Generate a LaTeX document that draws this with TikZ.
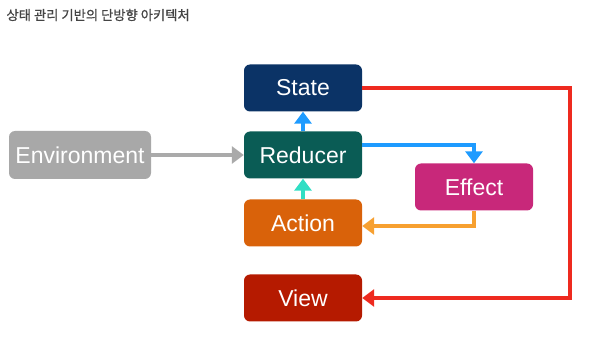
\documentclass[tikz,border=0pt]{standalone}
\usepackage{fontspec}
\setmainfont{Liberation Sans}
\newfontfamily\cjk{Noto Sans CJK KR}[FakeBold=0.8]
\usetikzlibrary{arrows.meta,positioning,calc}
\definecolor{cState}{HTML}{0B3366}
\definecolor{cReducer}{HTML}{0A5C55}
\definecolor{cAction}{HTML}{D9620A}
\definecolor{cView}{HTML}{B51A00}
\definecolor{cEffect}{HTML}{C8287A}
\definecolor{cEnv}{HTML}{A8A8A8}
\definecolor{aBlue}{HTML}{1E9BFF}
\definecolor{aRed}{HTML}{EE2A1F}
\definecolor{aOrange}{HTML}{F7A030}
\definecolor{aTeal}{HTML}{30DEC4}
\definecolor{aGray}{HTML}{AAAAAA}
\definecolor{title}{HTML}{444444}
\tikzset{
  box/.style={rounded corners=6pt, minimum width=118pt, minimum height=47pt,
    inner sep=0pt, text=white, font=\fontsize{23}{26}\selectfont,
    fill=#1},
  conn/.style={line width=3.2pt, -{Triangle[length=12pt,width=17pt]}},
}
\begin{document}
\begin{tikzpicture}[x=1pt,y=-1pt]
\useasboundingbox (0,0) rectangle (595,358);
\node[anchor=west, text=title, font=\cjk\fontsize{13.3}{15}\selectfont] (ttl) at (3,15) {상태 관리 기반의 단방향 아키텍처};
\node[box=cState] (state) at (303,88) {State};
\node[box=cReducer] (reducer) at (303,155) {Reducer};
\node[box=cAction] (action) at (303,223) {Action};
\node[box=cView] (view) at (303,298) {View};
\node[box=cEffect] (effect) at (474,187) {Effect};
\node[box=cEnv, minimum width=142pt, minimum height=48pt] (env) at (80,155) {Environment};
\coordinate (rc) at (570,88);
\draw[conn, aRed] (state.east) -- (rc) |- (view.east);
\draw[conn, aBlue] ([yshift=10pt]reducer.east) -| (effect.north);
\draw[conn, aOrange] (effect.south) |- ([yshift=-3pt]action.east);
\draw[conn, aBlue] (reducer.north) -- (state.south);
\draw[conn, aTeal] (action.north) -- (reducer.south);
\draw[conn, aGray] (env.east) -- (reducer.west);
\end{tikzpicture}
\end{document}
